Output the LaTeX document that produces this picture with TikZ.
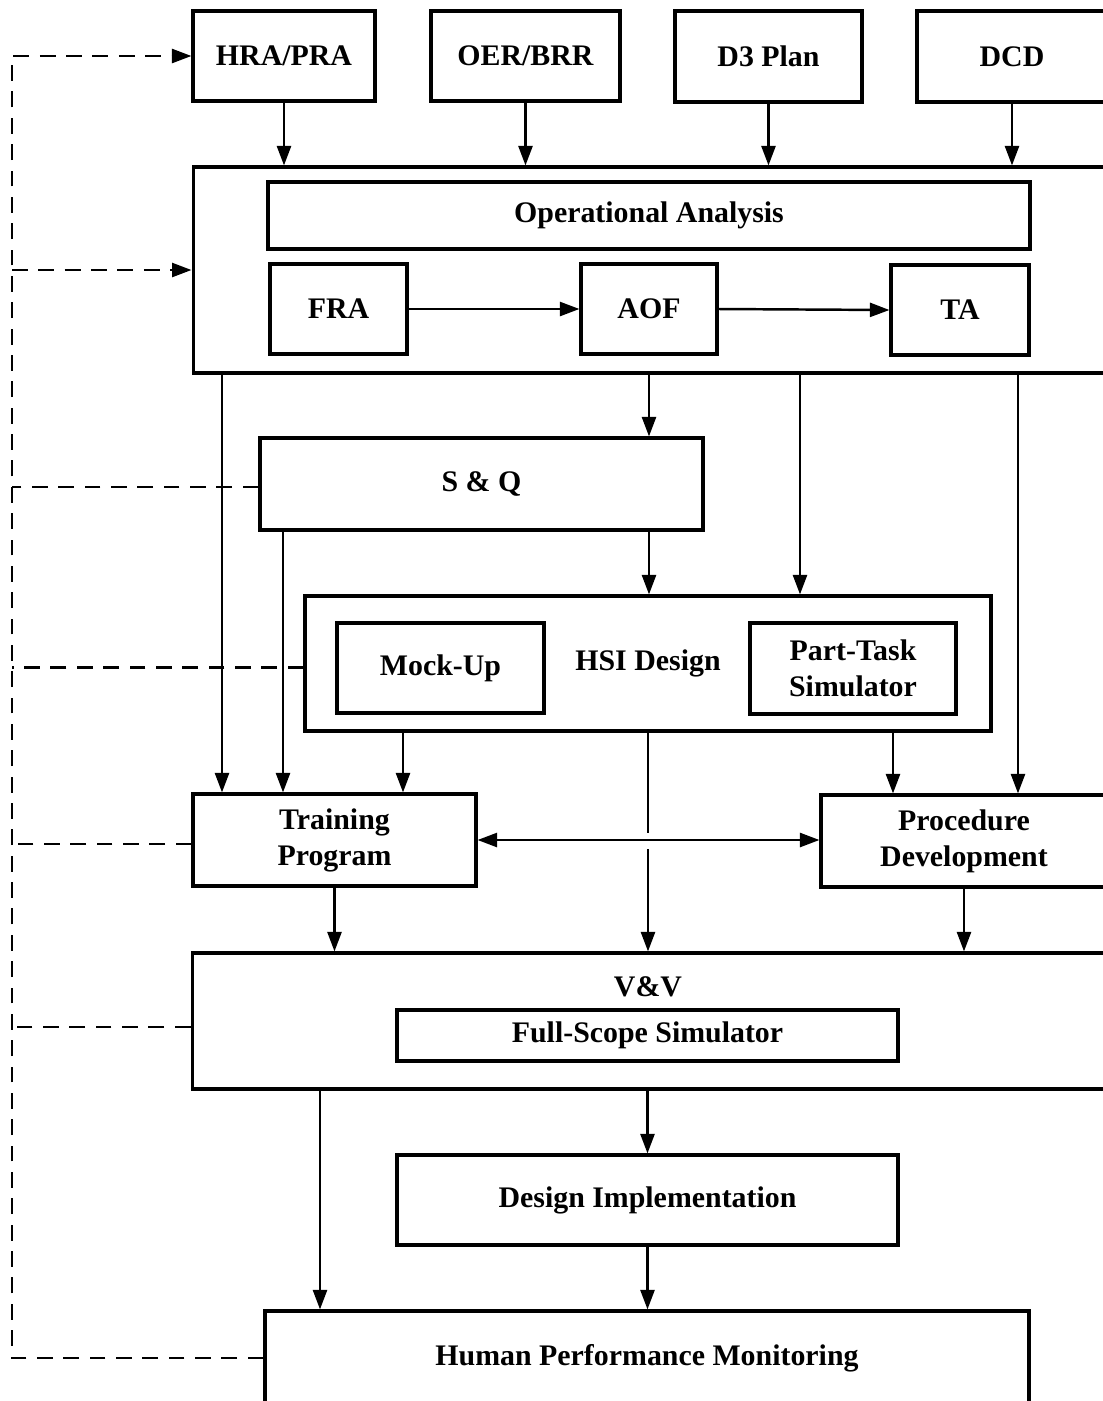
\documentclass[tikz,border=0pt]{standalone}
\usepackage{fontspec}
\setmainfont{Liberation Serif}
\usetikzlibrary{arrows.meta}

\begin{document}
\begin{tikzpicture}[
    x=0.02cm, y=-0.02cm,
    box/.style={draw, line width=1.8pt, font=\fontsize{17}{20.5}\selectfont\bfseries, align=center, inner sep=0pt},
    arrow/.style={-{Triangle[length=3.9mm, width=2.8mm]}, line width=1.4pt},
    dblarrow/.style={{Triangle[length=3.9mm, width=2.8mm]}-{Triangle[length=3.9mm, width=2.8mm]}, line width=1.4pt},
    link/.style={line width=1.4pt},
    feedback/.style={dash pattern=on 9pt off 6pt, line width=1.5pt},
]
\useasboundingbox (0,0) rectangle (1103,1401);
\clip (0,0) rectangle (1103,1401);

% Input boxes
\node[box, minimum width=3.64cm, minimum height=1.8cm] (hra) at (284,56) {HRA/PRA};
\node[box, minimum width=3.78cm, minimum height=1.8cm] (oer) at (525.5,56) {OER/BRR};
\node[box, minimum width=3.74cm, minimum height=1.82cm] (d3) at (768.5,56.5) {D3 Plan};
\node[box, minimum width=3.8cm, minimum height=1.82cm] (dcd) at (1012,56.5) {DCD};

% Operational analysis block
\node[box, minimum width=18.34cm, minimum height=4.12cm] (opbox) at (651.5,270) {};
\node[box, minimum width=15.24cm, minimum height=1.34cm] (opa) at (649,215.5) {Operational Analysis};
\node[box, minimum width=2.74cm, minimum height=1.8cm] (fra) at (338.5,309) {FRA};
\node[box, minimum width=2.72cm, minimum height=1.8cm] (aof) at (649,309) {AOF};
\node[box, minimum width=2.76cm, minimum height=1.8cm] (ta) at (960,310) {TA};

% S&Q and HSI design
\node[box, minimum width=8.86cm, minimum height=1.84cm] (sq) at (481.5,484) {S \& Q};
\node[box, minimum width=13.72cm, minimum height=2.7cm] (hsi) at (648,663.5) {HSI Design};
\node[box, minimum width=4.14cm, minimum height=1.8cm] (mock) at (440.5,668) {Mock-Up};
\node[box, minimum width=4.12cm, minimum height=1.82cm] (pts) at (853,668.5) {Part-Task\\Simulator};

% Training and procedures
\node[box, minimum width=5.66cm, minimum height=1.84cm] (train) at (334.5,840) {Training\\Program};
\node[box, minimum width=5.72cm, minimum height=1.84cm] (proc) at (964,841) {Procedure\\Development};

% V&V, implementation, monitoring
\node[box, minimum width=18.36cm, minimum height=2.72cm] (vv) at (651,1021) {};
\node[font=\fontsize{17}{20.5}\selectfont\bfseries, inner sep=0pt] (vvlabel) at (648,987) {V\&V};
\node[box, minimum width=10.02cm, minimum height=1.02cm] (fss) at (647.5,1035.5) {Full-Scope Simulator};
\node[box, minimum width=10.02cm, minimum height=1.8cm] (di) at (647.5,1200) {Design Implementation};
\node[box, minimum width=15.28cm, minimum height=1.88cm] (hpm) at (647,1358) {Human Performance Monitoring};

% Inputs into operational analysis
\foreach \n in {hra, oer, d3, dcd}
    \draw[arrow] (\n.south) -- (\n.south |- opbox.north);
\draw[arrow] (fra.east) -- (aof.west);
\draw[arrow] (aof.east) -- (ta.west);

% Drops from operational analysis
\foreach \x/\to in {222/train, 649/sq, 800/hsi, 1018/proc}
    \draw[arrow] (opbox.south -| \x,0) -- (\to.north -| \x,0);

% Drops from S&Q and HSI design
\foreach \x/\to in {283/train, 649/hsi}
    \draw[arrow] (sq.south -| \x,0) -- (\to.north -| \x,0);
\foreach \x/\to in {403/train, 893/proc}
    \draw[arrow] (hsi.south -| \x,0) -- (\to.north -| \x,0);
\coordinate (gapt) at (648,833);
\coordinate (gapb) at (648,849);
\draw[link] (hsi.south) -- (gapt);
\draw[arrow] (gapb) -- (vv.north -| gapb);
\draw[dblarrow] (train.east) -- (train.east -| proc.west);

% Into V&V and below
\draw[arrow] (train.south) -- (train.south |- vv.north);
\draw[arrow] (proc.south) -- (proc.south |- vv.north);
\draw[arrow] (vv.south -| di.north) -- (di.north);
\draw[arrow] (vv.south -| 320,0) -- (hpm.north -| 320,0);
\draw[arrow] (di.south) -- (di.south |- hpm.north);

% Feedback loop
\coordinate (fbtop) at (hra.west -| 12,0);
\draw[feedback, arrow] (hpm.west) -| (fbtop) -- (hra.west);
\draw[feedback, arrow] (opbox.west -| fbtop) -- (opbox.west);
\foreach \n/\dy in {sq/3, hsi/4, train/4, vv/6}
    \draw[feedback] ([yshift=-\dy*0.02cm]\n.west) -- ([yshift=-\dy*0.02cm]\n.west -| fbtop);

\end{tikzpicture}
\end{document}
